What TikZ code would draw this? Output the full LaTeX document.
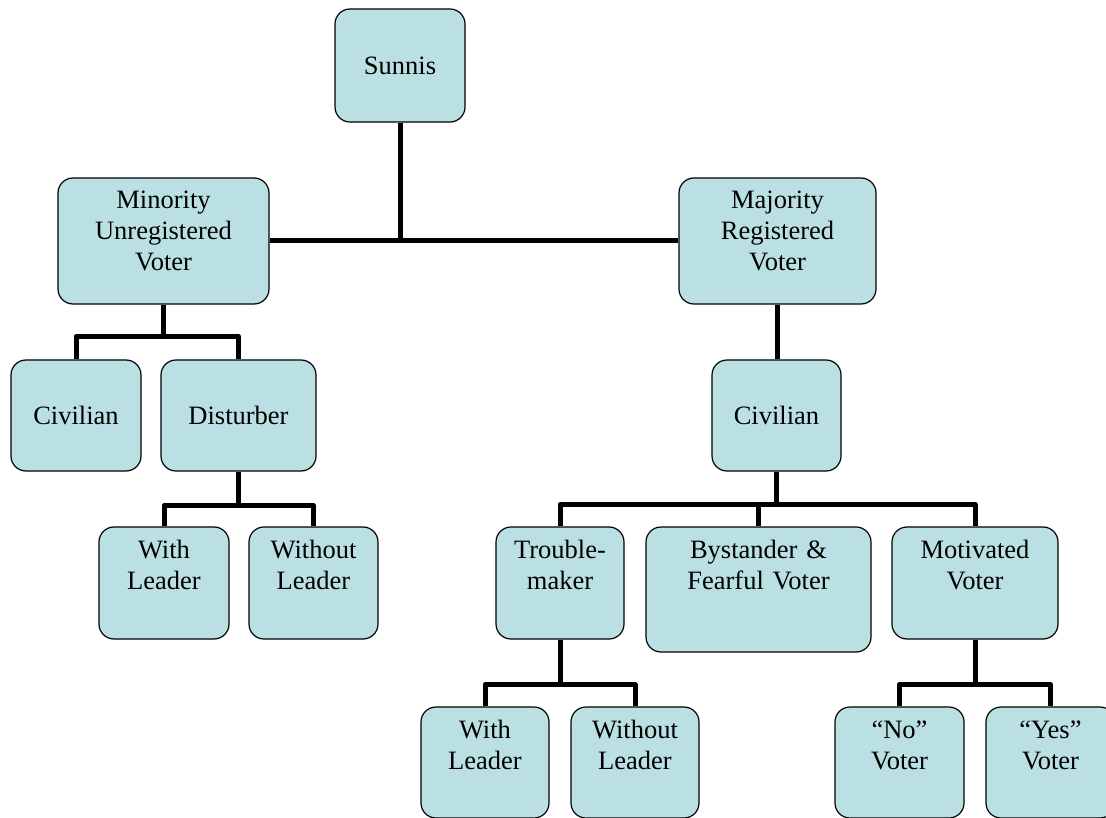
\documentclass[tikz,border=0pt]{standalone}
\usepackage{fontspec}
\setmainfont{Liberation Serif}
\usetikzlibrary{positioning}
\definecolor{boxblue}{RGB}{187,224,227}

\begin{document}
\begin{tikzpicture}[x=1pt, y=-1pt, font=\fontsize{26.5}{31}\selectfont,
    box/.style={draw, line width=1.2pt, rounded corners=15pt, fill=boxblue, inner sep=0pt, align=center},
    midbox/.style 2 args={box, minimum width=#1, minimum height=#2},
    topbox/.style 2 args={box, text width=#1, text height=31pt, text depth=#2},
    link/.style={line width=5pt, line join=round}]
    \useasboundingbox (0,0) rectangle (1106,818);
    \clip (0,0) rectangle (1106,818);

    \node [midbox={130pt}{113pt}] (sunnis) at (400,65.5) {Sunnis};
    \node [topbox={211pt}{95pt}] (minority) at (163.5,241) {Minority\\Unregistered\\Voter};
    \node [topbox={197pt}{95pt}] (majority) at (777.5,241) {Majority\\Registered\\Voter};
    \node [midbox={130pt}{111pt}] (civl) at (76,415.5) {Civilian};
    \node [midbox={155pt}{111pt}] (dist) at (238.5,415.5) {Disturber};
    \node [midbox={129pt}{111pt}] (civr) at (776.5,415.5) {Civilian};
    \node [topbox={130pt}{81pt}] (wl1) at (164,583) {With\\Leader};
    \node [topbox={129pt}{81pt}] (wol1) at (313.5,583) {Without\\Leader};
    \node [topbox={128pt}{81pt}] (trb) at (560,583) {Trouble-\\maker};
    \node [topbox={225pt}{94pt}] (bys) at (758.5,589.5) {Bystander \&\\Fearful Voter};
    \node [topbox={166pt}{81pt}] (mot) at (975,583) {Motivated\\Voter};
    \node [topbox={128pt}{80pt}] (wl2) at (485,762.5) {With\\Leader};
    \node [topbox={128pt}{80pt}] (wol2) at (635,762.5) {Without\\Leader};
    \node [topbox={129pt}{80pt}] (no) at (899.5,762.5) {“No”\\Voter};
    \node [topbox={129pt}{80pt}] (yes) at (1050.5,762.5) {“Yes”\\Voter};

    \draw [link] (minority.east) -- (majority.west);
    \draw [link] (sunnis.south) -- (sunnis.south |- minority.east);
    \draw [link] (civl.north) -- ++(0,-23) coordinate (bar1) -| (dist.north);
    \draw [link] (minority.south) -- (minority.south |- bar1);
    \draw [link] (majority.south) -- (majority.south |- civr.north);
    \draw [link] (wl1.north) -- ++(0,-21) coordinate (bar2) -| (wol1.north);
    \draw [link] (dist.south) -- (dist.south |- bar2);
    \draw [link] (trb.north) -- ++(0,-22) coordinate (bar3) -| (mot.north);
    \draw [link] (bys.north) -- (bys.north |- bar3);
    \draw [link] (civr.south) -- (civr.south |- bar3);
    \draw [link] (wl2.north) -- ++(0,-22) coordinate (bar4) -| (wol2.north);
    \draw [link] (trb.south) -- (trb.south |- bar4);
    \draw [link] (no.north) -- ++(0,-22) coordinate (bar5) -| (yes.north);
    \draw [link] (mot.south) -- (mot.south |- bar5);
\end{tikzpicture}
\end{document}
